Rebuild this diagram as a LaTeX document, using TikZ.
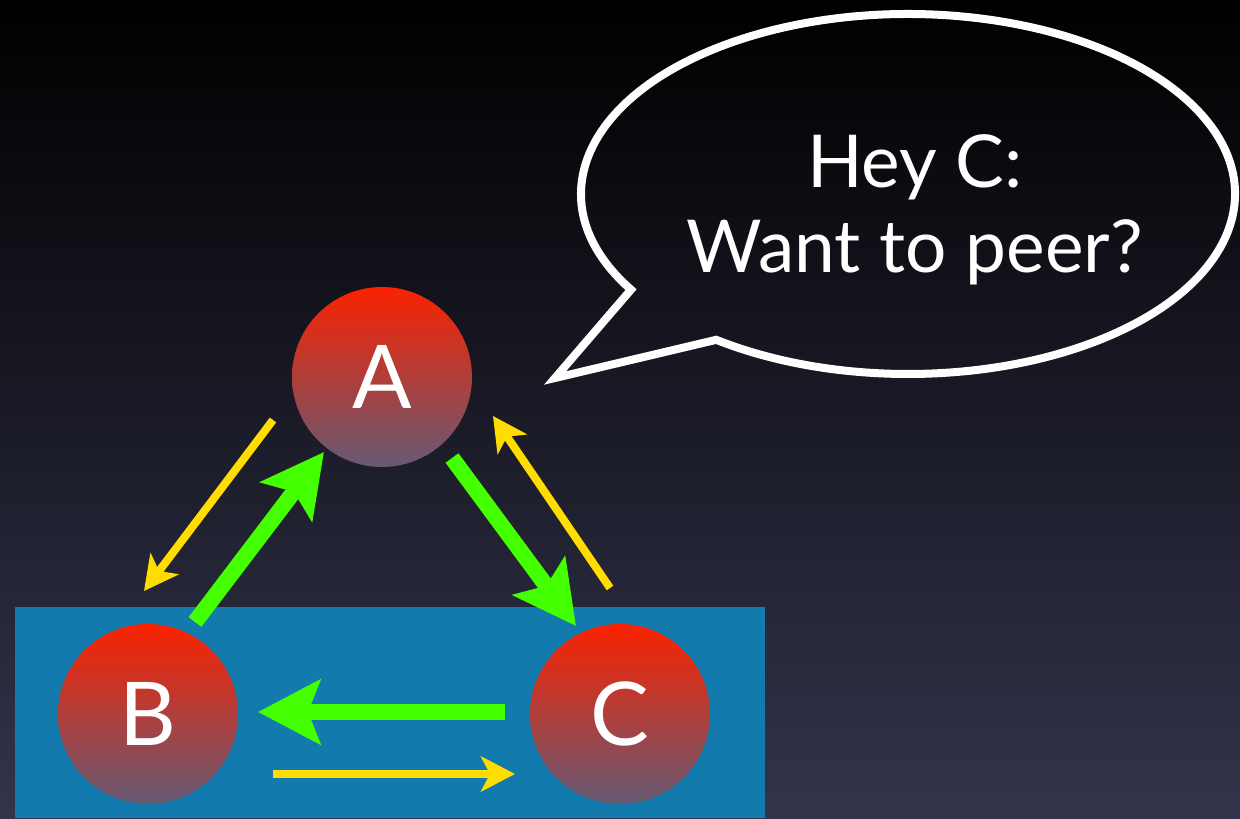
\documentclass[tikz,border=0pt]{standalone}
\usepackage{fontspec}
\setmainfont{Lato}
\usetikzlibrary{arrows.meta,calc}
\definecolor{bgmid}{HTML}{0B0C36}
\definecolor{bgbot}{HTML}{33344C}
\definecolor{panel}{HTML}{137AAE}
\definecolor{balltop}{HTML}{FA2200}
\definecolor{ballmid}{HTML}{BC333A}
\definecolor{ballbot}{HTML}{665A74}
\definecolor{grn}{HTML}{44FF00}
\definecolor{ylw}{HTML}{FFDD00}
\tikzset{
  ball/.style={circle, minimum size=90pt, inner sep=0pt, top color=balltop, middle color=ballmid, bottom color=ballbot, text=white, font=\fontsize{44}{44}\selectfont},
  garrow/.style={draw=grn, line width=8pt, -{Stealth[length=31pt,width=32pt,inset=6pt]}},
  yarrow/.style={draw=ylw, line width=4pt, -{Stealth[length=17pt,width=17.5pt,inset=4.5pt]}},
  bubble/.style={draw=white, line width=4pt, line join=miter},
  msgtxt/.style={text=white, align=center, font=\fontsize{36.5}{42.5}\selectfont}
}
\begin{document}
\begin{tikzpicture}[x=0.5pt,y=-0.5pt]
\useasboundingbox (0,0) rectangle (1240,818);
\shade[top color=black, middle color=bgmid, bottom color=bgbot] (0,0) rectangle (1240,818);
\fill[panel] (15,607) rectangle (765,818);
\node[ball] (A) at (382,377) {A};
\node[ball] (B) at (148,714) {B};
\node[ball] (C) at (620,714) {C};
% connector end points
\coordinate (ab1) at (273,420); \coordinate (ab2) at (144,591);
\coordinate (ba1) at (195,622); \coordinate (ba2) at (324,452);
\coordinate (ac1) at (452,458); \coordinate (ac2) at (576,626);
\coordinate (ca1) at (610,588); \coordinate (ca2) at (493,416);
\coordinate (cb1) at (505,712); \coordinate (cb2) at (258,712);
\coordinate (bc1) at (273,774); \coordinate (bc2) at (515,774);
\draw[yarrow] (ab1) -- (ab2);
\draw[garrow] (ba1) -- (ba2);
\draw[garrow] (ac1) -- (ac2);
\draw[yarrow] (ca1) -- (ca2);
\draw[garrow] (cb1) -- (cb2);
\draw[yarrow] (bc1) -- (bc2);
% speech bubble
\coordinate (tip) at (555,378);
\coordinate (bc) at (908,194);
\draw[bubble] (tip) -- ($(bc)+(147.9:327 and 180)$) arc[start angle=147.9, end angle=485.9, x radius=327, y radius=180] -- cycle;
\node[msgtxt] (msg) at (915,210) {Hey C:\\Want to peer?};
\end{tikzpicture}
\end{document}
